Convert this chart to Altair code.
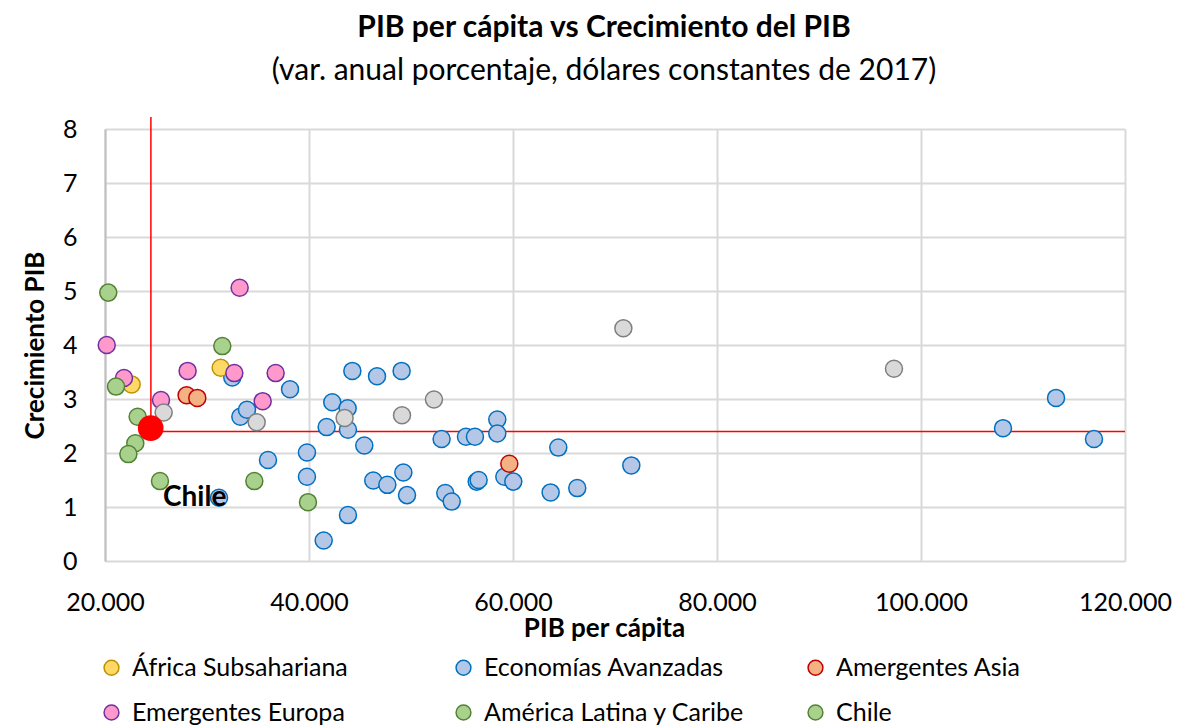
import altair as alt
import pandas as pd

FONT = "Lato"

categories = ["África Subsahariana", "Economías Avanzadas", "Amergentes Asia",
              "Emergentes Europa", "América Latina y Caribe", "Chile"]
fills = ["#FFD966", "#B4C7E7", "#F4B183", "#FF99CC", "#A9D18E", "#A9D18E"]
strokes = ["#BF9000", "#0070C0", "#C00000", "#7030A0", "#548235", "#548235"]

africa_x = [22610, 31340]
africa_y = [3.27, 3.58]
asia_x = [28000, 29050, 59640]
asia_y = [3.07, 3.02, 1.80]
europa_x = [20170, 21860, 25490, 28100, 32680, 33200, 35460, 36730]
europa_y = [4.00, 3.39, 2.98, 3.52, 3.48, 5.06, 2.96, 3.48]
latam_x = [20320, 21080, 23200, 22970, 22290, 25390, 31500, 34640, 39900]
latam_y = [4.97, 3.23, 2.67, 2.18, 1.98, 1.48, 3.98, 1.48, 1.09]
avanz_x = [31180, 32480, 33270, 33920, 35980, 38140, 39800, 39800, 41440, 41730,
           42280, 43790, 43820, 43820, 44250, 45420, 46300, 46670, 47680, 49080,
           49250, 49610, 53000, 53360, 53990, 55390, 56270, 56440, 56630, 58460,
           58460, 59150, 60030, 63690, 64440, 66300, 71600, 108040, 113240, 116960]
avanz_y = [1.17, 3.40, 2.67, 2.80, 1.87, 3.18, 2.01, 1.56, 0.38, 2.48,
           2.94, 2.83, 2.43, 0.85, 3.52, 2.14, 1.49, 3.42, 1.41, 3.52,
           1.64, 1.22, 2.26, 1.26, 1.10, 2.30, 2.30, 1.47, 1.50, 2.62,
           2.36, 1.56, 1.47, 1.27, 2.10, 1.35, 1.77, 2.46, 3.02, 2.26]
otros_x = [25750, 34870, 43490, 49120, 52250, 70820, 97350]
otros_y = [2.75, 2.57, 2.65, 2.70, 2.99, 4.31, 3.56]
chile_x = [24480]
chile_y = [2.46]
ref_x = [24500, 24500, 120000]
ref_y = [8.22, 2.40, 2.40]
x_ticks = [20000, 40000, 60000, 80000, 100000, 120000]
y_ticks = [0, 1, 2, 3, 4, 5, 6, 7, 8]

rows = []
for name, xs, ys in [("Economías Avanzadas", avanz_x, avanz_y),
                     ("África Subsahariana", africa_x, africa_y),
                     ("Amergentes Asia", asia_x, asia_y),
                     ("Emergentes Europa", europa_x, europa_y),
                     ("América Latina y Caribe", latam_x, latam_y)]:
    for a, b in zip(xs, ys):
        rows.append({"pib": a, "crec": b, "region": name})
df = pd.DataFrame(rows)
df_otros = pd.DataFrame({"pib": otros_x, "crec": otros_y})
df_chile = pd.DataFrame({"pib": chile_x, "crec": chile_y, "label": ["Chile"]})
df_ref = pd.DataFrame({"pib": ref_x, "crec": ref_y, "o": [0, 1, 2]})

xenc = alt.X("pib:Q", title="PIB per cápita",
             scale=alt.Scale(domain=[20000, 120000], nice=False),
             axis=alt.Axis(values=x_ticks, labelFlush=False, titleX=499,
                           labelExpr="replace(format(datum.value, ',.0f'), ',', '.')"))
yenc = alt.Y("crec:Q", title="Crecimiento PIB",
             scale=alt.Scale(domain=[0, 8], nice=False),
             axis=alt.Axis(values=y_ticks, labelFlush=False))

pts = alt.Chart(df).mark_circle(size=290, opacity=1, strokeWidth=1.5).encode(
    x=xenc, y=yenc,
    fill=alt.Fill("region:N", title=None,
                  scale=alt.Scale(domain=categories, range=fills)),
    stroke=alt.Stroke("region:N", title=None,
                      scale=alt.Scale(domain=categories, range=strokes)),
)
otros = alt.Chart(df_otros).mark_circle(size=290, opacity=1, strokeWidth=1.5,
                                         fill="#D9D9D9", stroke="#7F7F7F").encode(
    x="pib:Q", y="crec:Q")
ref = alt.Chart(df_ref).mark_line(color="#FF0000", strokeWidth=1.5, clip=False).encode(
    x="pib:Q", y="crec:Q", order="o:Q")
chile = alt.Chart(df_chile).mark_circle(size=560, opacity=1, fill="#FF0000",
                                         stroke="#FF0000").encode(
    x="pib:Q", y="crec:Q")
chile_lbl = alt.Chart(df_chile).mark_text(font=FONT, fontSize=28, fontWeight="bold",
                                           dx=44, dy=70, color="#000000").encode(
    x="pib:Q", y="crec:Q", text="label:N")

chart = alt.layer(ref, pts, otros, chile, chile_lbl).properties(
    width=1020, height=432,
    autosize=alt.AutoSizeParams(type="none"),
    padding={"left": 97, "top": 121, "right": 62, "bottom": 170},
    title=alt.TitleParams(
        text="PIB per cápita vs Crecimiento  del PIB",
        subtitle="(var. anual porcentaje, dólares constantes de 2017)",
        font=FONT, fontSize=30, fontWeight="bold", color="#000000",
        subtitleFont=FONT, subtitleFontSize=30, subtitleColor="#000000",
        subtitlePadding=13, anchor="middle", offset=28, dx=-11),
).configure_view(stroke=None).configure_axis(
    labelFont=FONT, labelFontSize=25, labelColor="#000000",
    titleFont=FONT, titleFontSize=26, titleColor="#000000", titleFontWeight="bold",
    gridColor="#D9D9D9", gridWidth=2, ticks=False, domain=False,
).configure_axisX(labelPadding=29, titlePadding=0
).configure_axisY(labelPadding=28, titlePadding=14, domain=True, domainColor="#BFBFBF",
                  domainWidth=2
).configure_legend(
    orient="none", legendX=-6, legendY=526, columns=3, direction="horizontal",
    gridAlign="all", labelLimit=500, labelOffset=8,
    columnPadding=58, rowPadding=19, symbolType="circle", symbolSize=220,
    symbolStrokeWidth=1.5, labelFont=FONT, labelFontSize=25, labelColor="#000000",
    symbolOpacity=1,
)

chart.save("out.html", embed_options={"renderer": "svg", "actions": False})
